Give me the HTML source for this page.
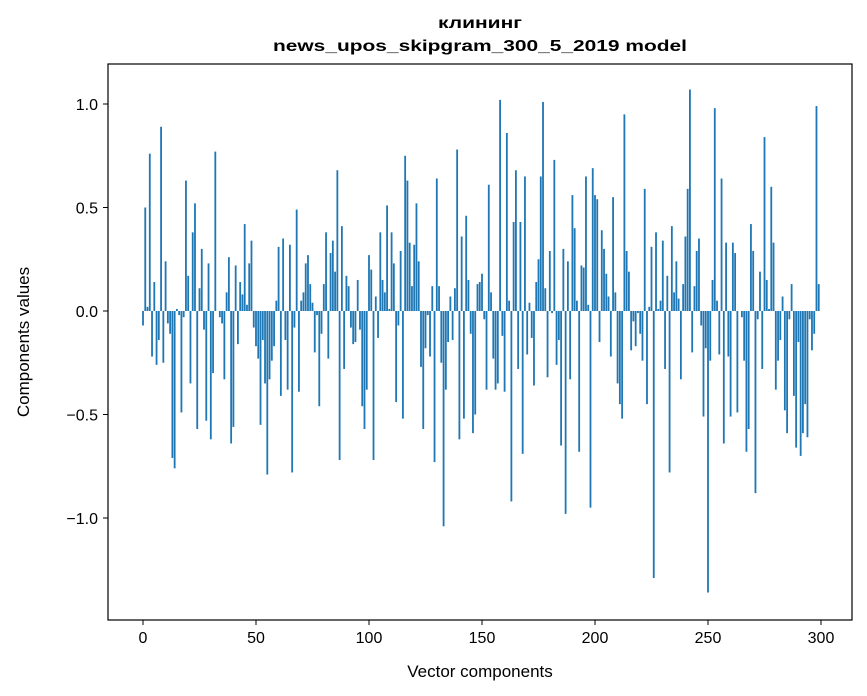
<!DOCTYPE html>
<html><head><meta charset="utf-8"><style>
html,body{margin:0;padding:0;background:#fff;}
svg{display:block;font-family:"Liberation Sans","DejaVu Sans",sans-serif;}
</style></head><body>
<svg id="chart" width="867" height="696" viewBox="0 0 867 696">
<rect x="0" y="0" width="867" height="696" fill="#fff"/>
<text x="480" y="28" text-anchor="middle" font-weight="bold" font-size="16" font-family="'Liberation Sans Narrow','Liberation Sans',sans-serif" textLength="84" lengthAdjust="spacingAndGlyphs">клининг</text>
<text x="480" y="51" text-anchor="middle" font-weight="bold" font-size="16" font-family="'Liberation Sans Narrow','Liberation Sans',sans-serif" textLength="414" lengthAdjust="spacingAndGlyphs">news_upos_skipgram_300_5_2019 model</text>
<g id="bars"></g>
<g id="axes"></g>
<rect x="108" y="64" width="744" height="556" fill="none" stroke="#000" stroke-width="1.2"/>
<text x="480" y="677" text-anchor="middle" font-size="17">Vector components</text>
<text transform="translate(29,342) rotate(-90)" text-anchor="middle" font-size="17">Components values</text>
</svg>
<script>
const values = [
-0.07,0.50,0.02,0.76,-0.22,0.14,-0.26,-0.14,0.89,-0.25,
0.24,-0.06,-0.11,-0.71,-0.76,0.01,-0.02,-0.49,-0.03,0.63,
0.17,-0.35,0.38,0.52,-0.57,0.11,0.30,-0.09,-0.53,0.23,
-0.62,-0.30,0.77,0.0,-0.03,-0.06,-0.33,0.09,0.26,-0.64,
-0.56,0.22,-0.16,0.14,0.08,0.42,0.03,0.23,0.34,-0.08,
-0.17,-0.23,-0.55,-0.14,-0.35,-0.79,-0.33,-0.24,-0.17,0.05,
0.31,-0.41,0.35,-0.14,-0.38,0.32,-0.78,-0.08,0.49,-0.39,
0.05,0.09,0.23,0.27,0.13,0.04,-0.20,-0.02,-0.46,-0.11,
0.13,0.38,-0.23,0.28,0.34,0.19,0.68,-0.72,0.41,-0.28,
0.17,0.12,-0.08,-0.16,-0.15,0.15,-0.09,-0.46,-0.57,-0.38,
0.27,0.20,-0.72,0.07,-0.13,0.38,0.15,0.09,0.51,0.01,
0.38,0.23,-0.44,-0.07,0.29,-0.52,0.75,0.63,0.33,0.12,
0.32,0.52,0.24,-0.27,-0.57,-0.18,-0.02,-0.22,0.12,-0.73,
0.64,0.12,-0.25,-1.04,-0.38,-0.15,0.07,-0.14,0.11,0.78,
-0.62,0.36,-0.52,0.46,0.15,-0.11,-0.59,-0.50,0.13,0.14,
0.18,-0.04,-0.38,0.61,0.09,-0.23,-0.38,-0.35,1.02,-0.12,
-0.39,0.86,0.05,-0.92,0.43,0.68,-0.28,0.43,-0.69,0.65,
-0.21,0.04,-0.13,-0.36,0.14,0.25,0.65,1.01,0.11,-0.32,
0.29,-0.01,0.73,-0.26,-0.14,-0.65,0.30,-0.98,0.24,-0.33,
0.56,0.40,0.05,-0.68,0.22,0.21,0.65,0.03,-0.95,0.69,
0.56,0.54,-0.15,0.39,0.30,0.18,0.07,-0.22,0.55,0.09,
-0.35,-0.45,-0.52,0.95,0.29,0.19,-0.19,-0.05,-0.17,-0.01,
-0.11,-0.24,0.59,-0.45,0.02,0.31,-1.29,0.38,0.01,0.05,
0.34,-0.28,0.17,-0.78,0.41,0.09,0.24,0.06,-0.33,0.13,
0.36,0.59,1.07,-0.20,0.12,0.29,0.35,-0.07,-0.51,-0.18,
-1.36,-0.24,0.15,0.98,0.05,-0.21,0.64,-0.64,0.33,-0.22,
-0.51,0.33,0.28,-0.49,0.0,-0.03,-0.24,-0.68,-0.57,0.42,
0.29,-0.88,-0.04,0.19,-0.28,0.84,0.15,0.01,0.60,0.33,
-0.38,-0.24,-0.14,0.07,-0.48,-0.59,-0.04,0.13,-0.41,-0.66,
-0.15,-0.70,-0.59,-0.45,-0.61,-0.04,-0.19,-0.11,0.99,0.13
];
const xTicks = [0,50,100,150,200,250,300];
const yTicks = [-1.0,-0.5,0.0,0.5,1.0];
const yTickLabels = ["\u22121.0","\u22120.5","0.0","0.5","1.0"];

const NS = "http://www.w3.org/2000/svg";
const X0 = 143, XS = 2.26;   // component -> px
const Y0 = 311, YS = 207;    // value -> px
function xScale(i){ return X0 + XS*i; }
function yScale(v){ return Y0 - YS*v; }
const barsG = document.getElementById('bars');
const axesG = document.getElementById('axes');
const bw = 0.8*XS;
values.forEach((v,i)=>{
  const r = document.createElementNS(NS,'rect');
  const y1 = yScale(Math.max(v,0)), y2 = yScale(Math.min(v,0));
  r.setAttribute('x', xScale(i)-bw/2);
  r.setAttribute('y', y1);
  r.setAttribute('width', bw);
  r.setAttribute('height', Math.max(y2-y1,0));
  r.setAttribute('fill', '#1f77b4');
  
  
  barsG.appendChild(r);
});
xTicks.forEach(t=>{
  const x = xScale(t);
  const l = document.createElementNS(NS,'line');
  l.setAttribute('x1',x); l.setAttribute('x2',x);
  l.setAttribute('y1',620); l.setAttribute('y2',625);
  l.setAttribute('stroke','#000');
  
  
  axesG.appendChild(l);
  const tx = document.createElementNS(NS,'text');
  tx.setAttribute('x',x); tx.setAttribute('y',643);
  tx.setAttribute('text-anchor','middle');
  tx.setAttribute('font-size','16');
  tx.textContent = t;
  
  
  axesG.appendChild(tx);
});
yTicks.forEach((t,k)=>{
  const y = yScale(t);
  const l = document.createElementNS(NS,'line');
  l.setAttribute('x1',103); l.setAttribute('x2',108);
  l.setAttribute('y1',y); l.setAttribute('y2',y);
  l.setAttribute('stroke','#000');
  
  
  axesG.appendChild(l);
  const tx = document.createElementNS(NS,'text');
  tx.setAttribute('x',98); tx.setAttribute('y',y+6);
  tx.setAttribute('text-anchor','end');
  tx.setAttribute('font-size','16');
  tx.textContent = yTickLabels[k];
  
  
  axesG.appendChild(tx);
});
</script>
</body></html>
